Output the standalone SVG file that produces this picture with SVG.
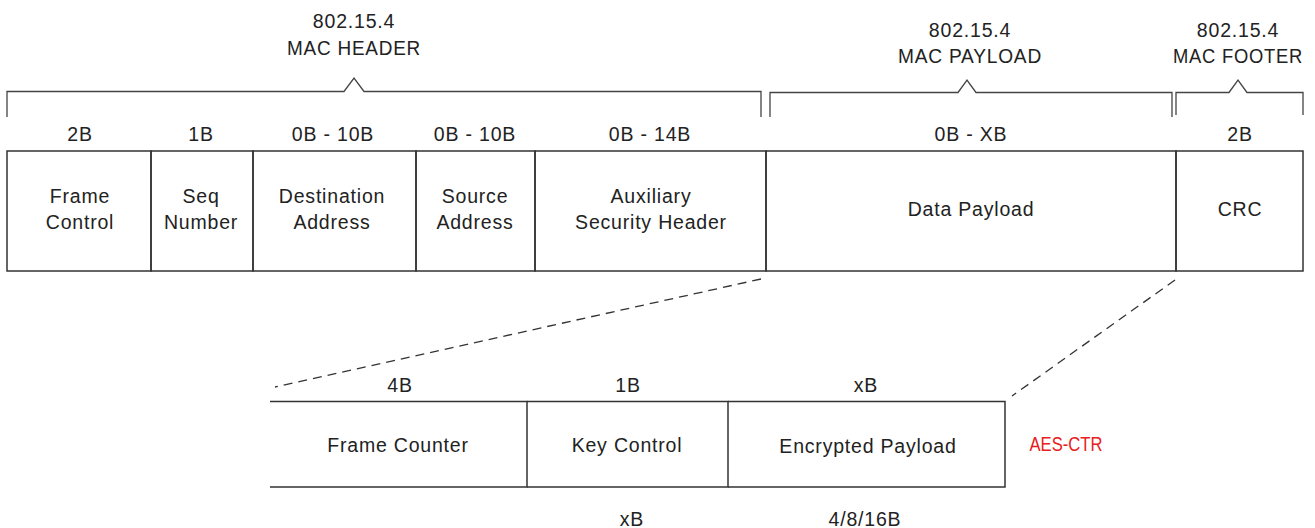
<svg xmlns="http://www.w3.org/2000/svg" width="1315" height="528" viewBox="0 0 1315 528">
<style>
text{font-family:"Liberation Sans",Arial,sans-serif;font-size:19.5px;fill:#222;text-anchor:middle;letter-spacing:0.8px}
.ln{fill:none;stroke:#333;stroke-width:1.5}
.br{fill:none;stroke:#444;stroke-width:1.3}
.dash{fill:none;stroke:#333;stroke-width:1.3;stroke-dasharray:9 6}
.red{fill:#e8201c;letter-spacing:0}
</style>
<rect width="1315" height="528" fill="#fff"/>
<g id="brackets">
<path class="br" d="M7,117 V91.5 H344 L354,78 L364,91.5 H761 V117"/>
<path class="br" d="M770,117 V92.5 H958 L967,80 L976,92.5 H1172 V117"/>
<path class="br" d="M1176,115 V92.5 H1229 L1238,80 L1247,92.5 H1303 V115"/>
</g>
<g id="headings">
<text x="354" y="28">802.15.4</text>
<text x="354" y="55" textLength="134" lengthAdjust="spacingAndGlyphs">MAC HEADER</text>
<text x="970" y="37">802.15.4</text>
<text x="970" y="63" textLength="144" lengthAdjust="spacingAndGlyphs">MAC PAYLOAD</text>
<text x="1238" y="37">802.15.4</text>
<text x="1238" y="63" textLength="130" lengthAdjust="spacingAndGlyphs">MAC FOOTER</text>
</g>
<g id="sizes">
<text x="80" y="141">2B</text>
<text x="201" y="141">1B</text>
<text x="333" y="141">0B - 10B</text>
<text x="475" y="141">0B - 10B</text>
<text x="650" y="141">0B - 14B</text>
<text x="971" y="141">0B - XB</text>
<text x="1240" y="141">2B</text>
</g>
<g id="frame-control"><rect class="ln" x="7" y="151" width="144" height="120"/><text x="80" y="203">Frame</text><text x="80" y="229">Control</text></g>
<g id="seq-number"><rect class="ln" x="151" y="151" width="102" height="120"/><text x="201" y="203">Seq</text><text x="201" y="229">Number</text></g>
<g id="dest-address"><rect class="ln" x="253" y="151" width="163" height="120"/><text x="332" y="203">Destination</text><text x="332" y="229">Address</text></g>
<g id="source-address"><rect class="ln" x="416" y="151" width="119" height="120"/><text x="475" y="203">Source</text><text x="475" y="229">Address</text></g>
<g id="aux-security"><rect class="ln" x="535" y="151" width="231" height="120"/><text x="651" y="203">Auxiliary</text><text x="651" y="229">Security Header</text></g>
<g id="data-payload"><rect class="ln" x="766" y="151" width="410" height="120"/><text x="971" y="216">Data Payload</text></g>
<g id="crc"><rect class="ln" x="1176" y="151" width="127" height="120"/><text x="1240" y="216">CRC</text></g>
<g id="connectors">
<line class="dash" x1="761" y1="279" x2="275" y2="387"/>
<line class="dash" x1="1175" y1="280" x2="1012" y2="396"/>
</g>
<g id="sub-sizes">
<text x="400" y="392">4B</text>
<text x="628" y="392">1B</text>
<text x="866" y="392">xB</text>
<text x="632" y="526">xB</text>
<text x="865" y="526">4/8/16B</text>
</g>
<g id="frame-counter"><path class="ln" d="M270,401.5 H527 V487 H270"/><text x="398" y="452">Frame Counter</text></g>
<g id="key-control"><path class="ln" d="M527,401.5 H728 V487 H527"/><text x="627" y="452">Key Control</text></g>
<g id="encrypted-payload"><path class="ln" d="M728,401.5 H1005 V487 H728"/><text x="868" y="453">Encrypted Payload</text></g>
<g id="aes-ctr"><text class="red" x="1066" y="451" textLength="73" lengthAdjust="spacingAndGlyphs">AES-CTR</text></g>
</svg>
